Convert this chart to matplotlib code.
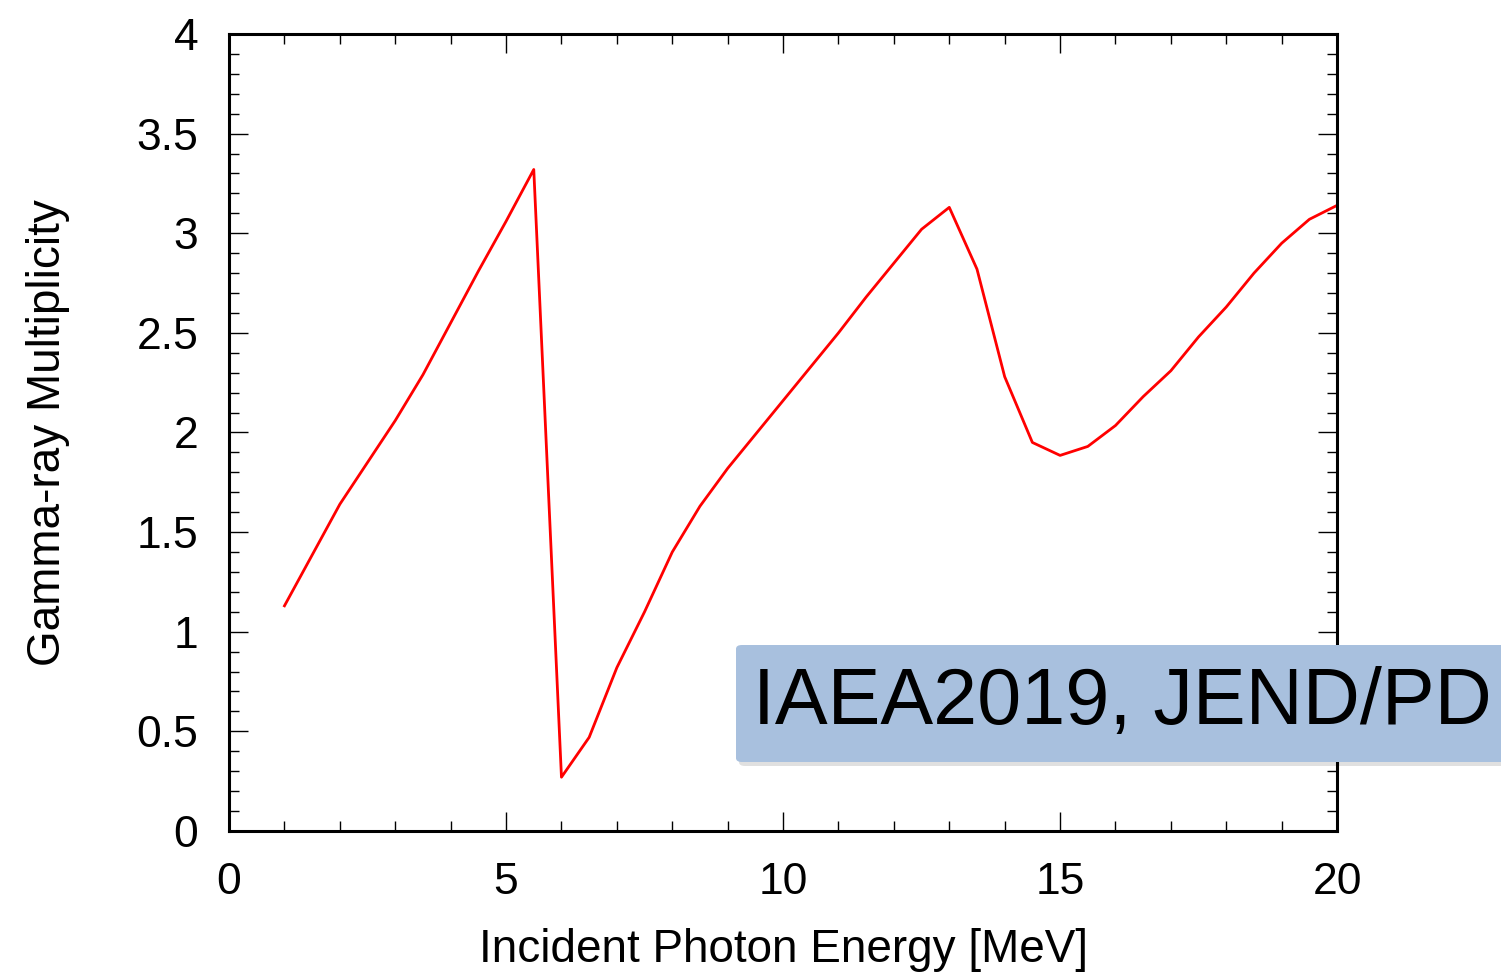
import matplotlib
matplotlib.use("Agg")
import matplotlib.pyplot as plt
from matplotlib.patches import FancyBboxPatch
from matplotlib.ticker import MultipleLocator, FuncFormatter

plt.rcParams["font.family"] = ["Liberation Sans", "DejaVu Sans"]

# 入射光子エネルギー [MeV] と ガンマ線多重度
energy = [1.0, 2.0, 3.0, 3.5, 4.0, 4.5, 5.0, 5.5, 6.0, 6.5, 7.0, 7.5, 8.0,
          8.5, 9.0, 9.5, 10.0, 10.5, 11.0, 11.5, 12.0, 12.5, 13.0, 13.5,
          14.0, 14.5, 15.0, 15.5, 16.0, 16.5, 17.0, 17.5, 18.0, 18.5,
          19.0, 19.5, 20.0]
multiplicity = [1.13, 1.64, 2.06, 2.29, 2.55, 2.81, 3.06, 3.32, 0.27, 0.47,
                0.82, 1.10, 1.40, 1.63, 1.82, 1.99, 2.16, 2.33, 2.50, 2.68,
                2.85, 3.02, 3.13, 2.82, 2.28, 1.95, 1.885, 1.93, 2.035, 2.18,
                2.31, 2.48, 2.63, 2.80, 2.95, 3.07, 3.14]

label_text = "IAEA2019, JEND/PD"

fig = plt.figure(figsize=(15.01, 9.72), dpi=100)
ax = fig.add_axes([0.1526, 0.1451, 0.7382, 0.8199])

ax.plot(energy, multiplicity, color="red", linewidth=2.0)

ax.set_xlim(0, 20)
ax.set_ylim(0, 4)
ax.xaxis.set_major_locator(MultipleLocator(5))
ax.xaxis.set_minor_locator(MultipleLocator(1))
ax.yaxis.set_major_locator(MultipleLocator(0.5))
ax.yaxis.set_minor_locator(MultipleLocator(0.1))
ax.yaxis.set_major_formatter(FuncFormatter(lambda v, _: f"{v:g}"))

ax.tick_params(which="both", direction="in", top=True, right=True,
               width=1.0, labelsize=32)
ax.tick_params(which="major", length=14, pad=22)
ax.tick_params(which="minor", length=7)
for s in ax.spines.values():
    s.set_linewidth(2.2)

ax.set_xlabel("Incident Photon Energy [MeV]", fontsize=33, labelpad=18)
ax.set_ylabel("Gamma-ray Multiplicity", fontsize=33, labelpad=48)

# 右下のラベル箱 (図の右端で切れている)
shadow = FancyBboxPatch((739 / 1501, 1 - 766 / 972), 0.6, 117 / 972,
                        boxstyle="round,pad=0,rounding_size=0.004",
                        transform=fig.transFigure, facecolor="#000000",
                        alpha=0.12, edgecolor="none", zorder=4)
box = FancyBboxPatch((736 / 1501, 1 - 762 / 972), 0.6, 117 / 972,
                     boxstyle="round,pad=0,rounding_size=0.004",
                     transform=fig.transFigure, facecolor="#A8C0DE",
                     edgecolor="none", zorder=5)
fig.patches.append(shadow)
fig.patches.append(box)
fig.text(753 / 1501, 1 - 703 / 972, label_text, fontsize=57,
         ha="left", va="center", zorder=6)

fig.savefig("out.png", dpi=100, facecolor="white")
